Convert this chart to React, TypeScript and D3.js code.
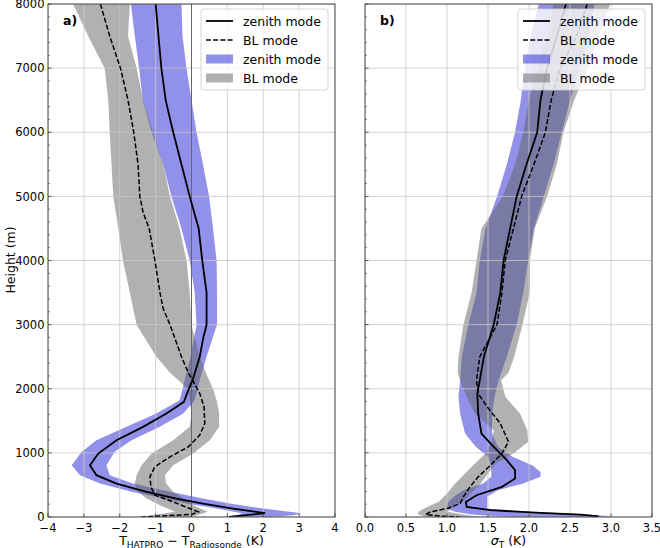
import React from "react";
import * as d3 from "d3";

// panel a) bias profiles, rows are [height (m), value (K)]
const biasZenith = [
  [8000, -1.0], [7000, -0.84], [6500, -0.72], [6000, -0.51], [5500, -0.28],
  [5000, -0.05], [4500, 0.2], [4000, 0.3], [3500, 0.42], [3000, 0.42],
  [2800, 0.33], [2500, 0.23], [2134, 0.03], [1978, -0.09], [1796, -0.21],
  [1614, -0.7], [1406, -1.35], [1198, -2.09], [990, -2.6], [808, -2.83],
  [652, -2.65], [522, -2.09], [392, -1.25], [288, -0.42], [210, 0.32],
  [132, 1.16], [60, 2.05], [0, 1.05],
];
const biasBL = [
  [8000, -2.54], [7500, -2.28], [7000, -1.98], [6500, -1.77], [6000, -1.61],
  [5500, -1.49], [5000, -1.44], [4750, -1.35], [4500, -1.18], [4000, -1.02],
  [3500, -0.88], [3250, -0.79], [3000, -0.6], [2500, -0.28], [2250, -0.09],
  [2134, 0.03], [1926, 0.23], [1718, 0.35], [1458, 0.37], [1277, 0.23],
  [1094, -0.09], [938, -0.6], [782, -1.02], [626, -1.16], [470, -1.13],
  [340, -1.02], [236, -0.51], [132, -0.05], [80, 0.19], [40, 0.0], [0, -1.4],
];
// [height, low, high]
const biasZenithBand = [
  [8000, -1.69, -0.28], [7500, -1.58, -0.25], [7000, -1.46, -0.14],
  [6500, -1.36, 0.0], [6000, -1.11, 0.14], [5500, -0.79, 0.32],
  [5000, -0.56, 0.49], [4500, -0.28, 0.6], [4000, -0.05, 0.7],
  [3500, 0.09, 0.71], [3000, 0.14, 0.71], [2500, -0.03, 0.42],
  [2134, -0.19, 0.23], [1822, -0.33, 0.09], [1614, -0.98, -0.23],
  [1406, -1.81, -0.88], [1198, -2.65, -1.67], [1016, -3.06, -2.14],
  [808, -3.34, -2.37], [652, -3.11, -2.28], [522, -2.55, -1.63],
  [392, -1.67, -0.6], [288, -0.79, 0.32], [210, -0.14, 1.07],
  [132, 0.7, 2.0], [60, 1.4, 3.06], [30, 1.3, 2.9], [0, 0.9, 2.2],
];
const biasBLBand = [
  [8000, -3.3, -1.72], [7500, -2.88, -1.77], [7000, -2.42, -1.53],
  [6500, -2.32, -1.35], [6000, -2.28, -1.07], [5500, -2.23, -0.79],
  [5000, -2.18, -0.6], [4500, -2.04, -0.33], [4000, -1.91, -0.14],
  [3500, -1.72, -0.05], [3000, -1.53, 0.0], [2500, -0.98, 0.23],
  [2250, -0.6, 0.4], [2000, -0.1, 0.6], [1822, -0.05, 0.7],
  [1614, 0.0, 0.77], [1406, -0.05, 0.77], [1198, -0.51, 0.51],
  [990, -1.11, 0.05], [808, -1.39, -0.51], [652, -1.53, -0.74],
  [522, -1.58, -0.71], [392, -1.49, -0.51], [288, -1.25, -0.23],
  [184, -0.88, 0.05], [80, -0.45, 0.45], [0, -1.45, 0.0],
];

// panel b) standard deviation profiles
const sdZenith = [
  [8000, 2.45], [7500, 2.34], [7000, 2.22], [6500, 2.14], [6000, 2.1],
  [5500, 1.97], [5000, 1.85], [4500, 1.77], [4000, 1.69], [3500, 1.65],
  [3000, 1.57], [2500, 1.45], [2134, 1.4], [1926, 1.37], [1614, 1.38],
  [1302, 1.42], [1094, 1.57], [886, 1.73], [730, 1.83], [600, 1.83],
  [470, 1.67], [340, 1.36], [236, 1.23], [158, 1.24], [106, 1.53],
  [64, 2.14], [38, 2.63], [10, 2.85], [0, 2.78],
];
const sdBL = [
  [8000, 2.71], [7500, 2.58], [7000, 2.38], [6500, 2.27], [6000, 2.2],
  [5500, 2.06], [5000, 1.91], [4500, 1.81], [4000, 1.71], [3500, 1.67],
  [3000, 1.61], [2500, 1.4], [2134, 1.36], [1926, 1.38], [1718, 1.49],
  [1458, 1.65], [1172, 1.75], [990, 1.67], [808, 1.53], [626, 1.38],
  [470, 1.28], [314, 1.2], [210, 1.16], [132, 1.0], [80, 0.8], [40, 0.74],
  [15, 0.9], [0, 1.15],
];
const sdZenithBand = [
  [8000, 2.12, 2.8], [7500, 2.02, 2.72], [7000, 1.95, 2.62], [6500, 1.9, 2.5],
  [6000, 1.83, 2.4], [5500, 1.73, 2.3], [5000, 1.61, 2.18], [4500, 1.47, 2.06],
  [4000, 1.4, 1.99], [3500, 1.36, 1.93], [3000, 1.26, 1.85], [2500, 1.18, 1.73],
  [2134, 1.16, 1.63], [1874, 1.14, 1.58], [1614, 1.16, 1.55], [1302, 1.22, 1.55],
  [1094, 1.35, 1.62], [938, 1.5, 1.8], [800, 1.54, 2.05], [700, 1.54, 2.14],
  [626, 1.54, 2.14], [522, 1.44, 1.93], [418, 1.2, 1.62], [314, 1.08, 1.49],
  [210, 1.0, 1.49], [132, 1.0, 1.49], [80, 1.1, 2.0], [40, 1.3, 2.7],
  [10, 1.6, 3.0], [0, 1.8, 3.0],
];
const sdBLBand = [
  [8000, 2.3, 2.99], [7500, 2.22, 2.85], [7000, 2.1, 2.72], [6500, 2.0, 2.55],
  [6000, 1.93, 2.42], [5500, 1.83, 2.34], [5000, 1.68, 2.22], [4500, 1.42, 2.07],
  [4000, 1.36, 2.01], [3500, 1.3, 2.01], [3000, 1.2, 1.92], [2500, 1.14, 1.82],
  [2250, 1.13, 1.75], [2134, 1.16, 1.66], [1874, 1.24, 1.71], [1614, 1.34, 1.89],
  [1354, 1.57, 1.98], [1172, 1.55, 1.99], [990, 1.47, 1.81], [834, 1.34, 1.59],
  [678, 1.22, 1.5], [522, 1.1, 1.41], [366, 1.0, 1.29], [236, 0.9, 1.19],
  [132, 0.72, 1.06], [80, 0.65, 1.0], [40, 0.65, 1.2], [0, 0.75, 1.4],
];

const heightTicks = [0, 1000, 2000, 3000, 4000, 5000, 6000, 7000, 8000];
const biasTicks = [-4, -3, -2, -1, 0, 1, 2, 3, 4];
const sdTicks = [0, 0.5, 1, 1.5, 2, 2.5, 3, 3.5];
const legendLabels = ["zenith mode", "BL mode", "zenith mode", "BL mode"];

const FONT = "DejaVu Sans, sans-serif";
const BLUE = "rgb(0,0,205)";
const BLUE_A = 0.43;
const GREY = "rgb(100,100,100)";
const GREY_A = 0.5;

const plotTop = 4;
const plotBottom = 517;

const yScale = d3.scaleLinear().domain([0, 8000]).range([plotBottom, plotTop]);

type Row = number[];

function Legend({ right }: { right: number }) {
  const w = 127;
  const x0 = right - 7 - w;
  const rowY = [21, 40, 59, 78];
  return (
    <g>
      <rect x={x0} y={9} width={w} height={81} rx={3} fill="white" fillOpacity={0.8} stroke="#cccccc" strokeWidth={0.8} />
      <line x1={x0 + 5} x2={x0 + 32} y1={rowY[0]} y2={rowY[0]} stroke="black" strokeWidth={1.8} />
      <line x1={x0 + 5} x2={x0 + 32} y1={rowY[1]} y2={rowY[1]} stroke="black" strokeWidth={1.5} strokeDasharray="5,2.2" />
      <rect x={x0 + 5} y={rowY[2] - 4.5} width={27} height={9} fill={BLUE} fillOpacity={BLUE_A} />
      <rect x={x0 + 5} y={rowY[3] - 4.5} width={27} height={9} fill={GREY} fillOpacity={GREY_A} />
      {legendLabels.map((t, i) => (
        <text key={i} x={x0 + 42} y={rowY[i] + 4.5} fontSize={12.5} fontFamily={FONT}>
          {t}
        </text>
      ))}
    </g>
  );
}

function Panel({
  id, left, right, domain, ticks, fmt, label, meanZ, meanB, bandZ, bandB, zeroLine, showY, children,
}: {
  id: string; left: number; right: number; domain: [number, number]; ticks: number[];
  fmt: (v: number) => string; label: string; meanZ: Row[]; meanB: Row[]; bandZ: Row[]; bandB: Row[];
  zeroLine: boolean; showY: boolean; children?: React.ReactNode;
}) {
  const x = d3.scaleLinear().domain(domain).range([left, right]);
  const line = d3.line<Row>().x((d) => x(d[1])).y((d) => yScale(d[0]));
  const area = d3.area<Row>().y((d) => yScale(d[0])).x0((d) => x(d[1])).x1((d) => x(d[2]));
  const minor = d3.range(0, 8001, 200).filter((v) => v % 1000 !== 0);
  return (
    <g>
      <defs>
        <clipPath id={id}>
          <rect x={left} y={plotTop} width={right - left} height={plotBottom - plotTop} />
        </clipPath>
      </defs>
      <g clipPath={`url(#${id})`}>
        <path d={area(bandZ) ?? ""} fill={BLUE} fillOpacity={BLUE_A} />
        <path d={area(bandB) ?? ""} fill={GREY} fillOpacity={GREY_A} />
        {ticks.map((t) => (
          <line key={"gx" + t} x1={x(t)} x2={x(t)} y1={plotTop} y2={plotBottom} stroke="#c8c8c8" strokeWidth={0.8} />
        ))}
        {heightTicks.map((t) => (
          <line key={"gy" + t} x1={left} x2={right} y1={yScale(t)} y2={yScale(t)} stroke="#c8c8c8" strokeWidth={0.8} />
        ))}
        {zeroLine && (
          <line x1={x(0)} x2={x(0)} y1={plotTop} y2={plotBottom} stroke="#666666" strokeWidth={1} />
        )}
        <path d={line(meanB) ?? ""} fill="none" stroke="black" strokeWidth={1.5} strokeDasharray="5,2.2" />
        <path d={line(meanZ) ?? ""} fill="none" stroke="black" strokeWidth={1.8} />
      </g>
      {/* ticks */}
      {heightTicks.map((t) => (
        <line key={"ty" + t} x1={left} x2={left + 3.5} y1={yScale(t)} y2={yScale(t)} stroke="#333" strokeWidth={0.8} />
      ))}
      {minor.map((t) => (
        <line key={"my" + t} x1={left} x2={left + 2} y1={yScale(t)} y2={yScale(t)} stroke="#333" strokeWidth={0.6} />
      ))}
      {ticks.map((t) => (
        <line key={"tx" + t} x1={x(t)} x2={x(t)} y1={plotBottom} y2={plotBottom - 3.5} stroke="#333" strokeWidth={0.8} />
      ))}
      <rect x={left} y={plotTop} width={right - left} height={plotBottom - plotTop} fill="none" stroke="#444" strokeWidth={1} />
      {ticks.map((t) => (
        <text key={"lx" + t} x={x(t)} y={532} textAnchor="middle" fontSize={11.5} fontFamily={FONT}>
          {fmt(t)}
        </text>
      ))}
      {showY &&
        heightTicks.map((t) => (
          <text key={"ly" + t} x={left - 3.5} y={yScale(t) + 4.2} textAnchor="end" fontSize={11.5} fontFamily={FONT}>
            {t}
          </text>
        ))}
      <text x={left + 15} y={25} fontSize={12.5} fontWeight="bold" fontFamily={FONT}>
        {label}
      </text>
      <Legend right={right} />
      {children}
    </g>
  );
}

export default function App() {
  const biasFmt = (v: number) => (v < 0 ? "\u2212" + Math.abs(v) : String(v));
  const sdFmt = d3.format(".1f");
  return (
    <svg width={660} height={548} style={{ position: "fixed", left: 0, top: 0, background: "white" }}>
      <rect width={660} height={548} fill="white" />
      <Panel
        id="clipA" left={48} right={335} domain={[-4, 4]} ticks={biasTicks} fmt={biasFmt} label="a)"
        meanZ={biasZenith} meanB={biasBL} bandZ={biasZenithBand} bandB={biasBLBand} zeroLine={true} showY={true}
      />
      <Panel
        id="clipB" left={365} right={652} domain={[0, 3.5]} ticks={sdTicks} fmt={sdFmt} label="b)"
        meanZ={sdZenith} meanB={sdBL} bandZ={sdZenithBand} bandB={sdBLBand} zeroLine={false} showY={false}
      />
      <text transform="translate(15,260) rotate(-90)" textAnchor="middle" fontSize={12.5} fontFamily={FONT}>
        Height (m)
      </text>
      <text x={191.5} y={545} textAnchor="middle" fontSize={12.5} fontFamily={FONT}>
        T<tspan fontSize={9} dy={3}>HATPRO</tspan>
        <tspan dy={-3}>{" \u2212 T"}</tspan>
        <tspan fontSize={9} dy={3}>Radiosonde</tspan>
        <tspan dy={-3}>{" (K)"}</tspan>
      </text>
      <text x={508.5} y={545} textAnchor="middle" fontSize={12.5} fontFamily={FONT}>
        <tspan fontStyle="italic">σ</tspan>
        <tspan fontSize={9} dy={3}>T</tspan>
        <tspan dy={-3}>{" (K)"}</tspan>
      </text>
    </svg>
  );
}
